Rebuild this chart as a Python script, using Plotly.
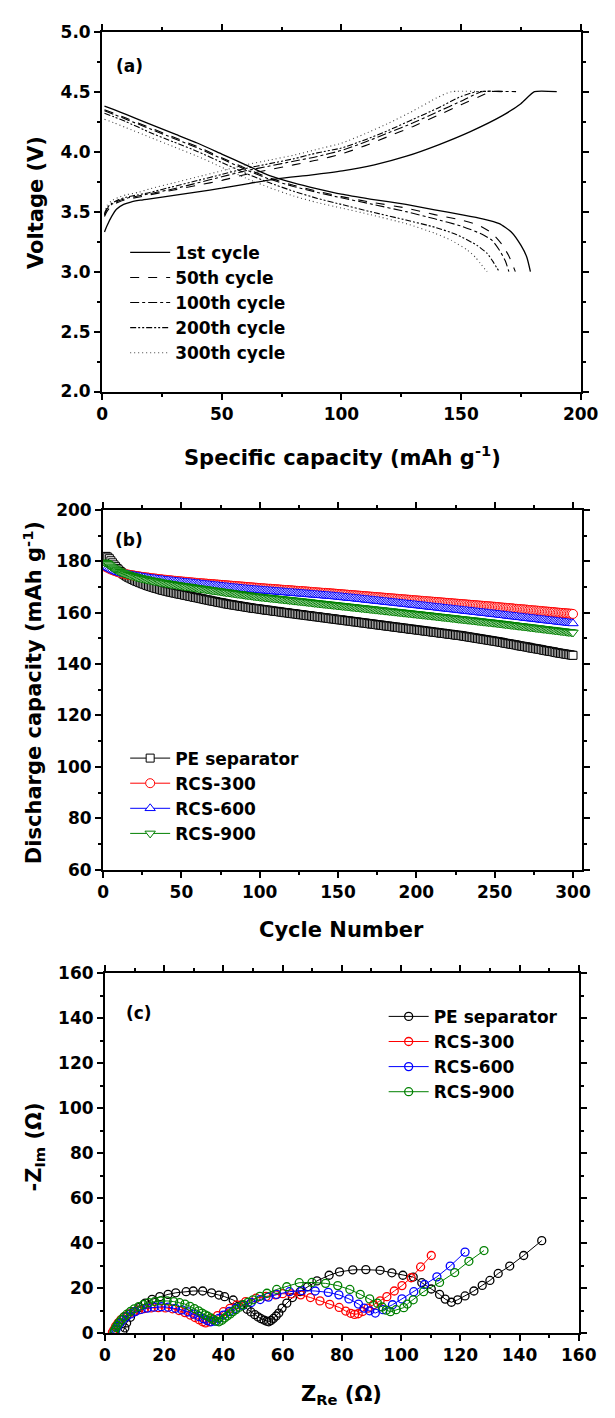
import plotly.graph_objects as go

# ---------------- Panel (a): charge / discharge curves ----------------
cycle_labels = ["1st cycle", "50th cycle", "100th cycle", "200th cycle", "300th cycle"]

ch1_cap = [1, 2, 4, 6, 9, 12, 16, 20, 30, 40, 50, 60, 73.6, 87, 100.4, 113.8, 127.2, 140.6, 153.9, 167.3, 175, 180.7, 190]
ch1_v = [3.33, 3.38, 3.46, 3.52, 3.56, 3.58, 3.595, 3.607, 3.635, 3.665, 3.695, 3.73, 3.775, 3.805, 3.84, 3.89, 3.962, 4.057, 4.167, 4.30, 4.40, 4.50, 4.50]
ch50_cap = [1, 2, 4, 7, 10, 15, 20, 30, 40, 50, 60, 70, 80, 90, 100, 110, 120, 130, 140, 150, 160, 162.5, 173]
ch50_v = [3.46, 3.50, 3.55, 3.58, 3.60, 3.62, 3.64, 3.68, 3.72, 3.76, 3.81, 3.85, 3.89, 3.93, 3.98, 4.05, 4.13, 4.21, 4.30, 4.39, 4.48, 4.50, 4.50]
ch100_cap = [1, 2, 4, 7, 10, 15, 20, 30, 40, 50, 60, 70, 80, 90, 100, 110, 120, 130, 140, 150, 158.5, 171]
ch100_v = [3.47, 3.52, 3.56, 3.59, 3.61, 3.63, 3.65, 3.69, 3.74, 3.79, 3.84, 3.88, 3.92, 3.96, 4.01, 4.08, 4.16, 4.24, 4.33, 4.42, 4.50, 4.50]
ch200_cap = [1, 2, 4, 7, 10, 15, 20, 30, 40, 50, 60, 70, 80, 90, 100, 110, 120, 130, 140, 150, 156.5, 168]
ch200_v = [3.48, 3.53, 3.57, 3.60, 3.62, 3.64, 3.66, 3.71, 3.76, 3.81, 3.86, 3.90, 3.94, 3.99, 4.03, 4.10, 4.18, 4.27, 4.36, 4.46, 4.50, 4.50]
ch300_cap = [1, 2, 4, 7, 10, 15, 20, 30, 40, 50, 60, 70, 80, 90, 100, 110, 120, 130, 140, 146, 160]
ch300_v = [3.49, 3.55, 3.59, 3.62, 3.64, 3.66, 3.69, 3.74, 3.79, 3.84, 3.89, 3.93, 3.97, 4.02, 4.07, 4.15, 4.24, 4.34, 4.45, 4.50, 4.50]

dis1_cap = [1, 5, 10, 20, 30, 40, 50, 60, 70, 80, 90, 100, 112, 127, 139, 150, 159, 166, 171, 175, 177.5, 179]
dis1_v = [4.38, 4.35, 4.31, 4.23, 4.15, 4.07, 3.98, 3.89, 3.80, 3.74, 3.69, 3.645, 3.605, 3.56, 3.515, 3.475, 3.44, 3.40, 3.33, 3.22, 3.12, 3.00]
dis50_cap = [1, 5, 10, 20, 30, 40, 50, 60, 70, 80, 90, 100, 112, 127, 139, 150, 157, 163, 167, 170, 172.7]
dis50_v = [4.35, 4.32, 4.28, 4.20, 4.12, 4.04, 3.95, 3.86, 3.78, 3.72, 3.67, 3.625, 3.58, 3.53, 3.475, 3.43, 3.39, 3.32, 3.23, 3.13, 3.00]
dis100_cap = [1, 5, 10, 20, 30, 40, 50, 60, 70, 80, 90, 100, 112, 127, 139, 150, 159, 163, 166, 168.5, 170]
dis100_v = [4.34, 4.31, 4.27, 4.19, 4.11, 4.03, 3.94, 3.85, 3.77, 3.71, 3.66, 3.615, 3.565, 3.50, 3.44, 3.38, 3.31, 3.26, 3.18, 3.09, 3.00]
dis200_cap = [1, 5, 10, 20, 30, 40, 50, 60, 70, 80, 90, 100, 112, 127, 139, 148, 156.6, 161, 163.3, 165, 166]
dis200_v = [4.32, 4.29, 4.25, 4.16, 4.08, 4.00, 3.91, 3.82, 3.74, 3.67, 3.61, 3.56, 3.50, 3.43, 3.37, 3.31, 3.22, 3.15, 3.085, 3.03, 3.00]
dis300_cap = [1, 5, 10, 20, 30, 40, 50, 60, 70, 80, 90, 100, 112, 127, 139, 146, 152.6, 156, 158, 160, 160.9]
dis300_v = [4.27, 4.24, 4.20, 4.12, 4.04, 3.96, 3.87, 3.78, 3.70, 3.63, 3.575, 3.53, 3.475, 3.40, 3.32, 3.26, 3.18, 3.12, 3.07, 3.02, 3.00]

# ---------------- Panel (b): cycling performance ----------------
series_names = ["PE separator", "RCS-300", "RCS-600", "RCS-900"]
cycles = list(range(1, 301))

pe_cap = [
    181.8, 181.9, 181.6, 181.0, 180.2, 179.4, 178.6, 177.9, 177.2, 176.6,
    176.0, 175.5, 175.0, 174.6, 174.2, 173.8, 173.5, 173.2, 172.9, 172.6,
    172.3, 172.1, 171.8, 171.6, 171.3, 171.1, 170.9, 170.6, 170.4, 170.2,
    170.0, 169.8, 169.6, 169.4, 169.3, 169.1, 168.9, 168.7, 168.6, 168.4,
    168.3, 168.1, 168.0, 167.9, 167.7, 167.6, 167.5, 167.3, 167.2, 167.1,
    167.0, 166.8, 166.7, 166.6, 166.4, 166.3, 166.2, 166.0, 165.9, 165.8,
    165.7, 165.5, 165.4, 165.3, 165.1, 165.0, 164.9, 164.8, 164.6, 164.5,
    164.4, 164.3, 164.1, 164.0, 163.9, 163.8, 163.7, 163.5, 163.4, 163.3,
    163.2, 163.1, 163.0, 162.9, 162.8, 162.7, 162.6, 162.5, 162.4, 162.3,
    162.2, 162.1, 162.0, 161.9, 161.8, 161.7, 161.6, 161.6, 161.5, 161.4,
    161.3, 161.2, 161.1, 161.0, 161.0, 160.9, 160.8, 160.7, 160.6, 160.5,
    160.5, 160.4, 160.3, 160.2, 160.1, 160.0, 160.0, 159.9, 159.8, 159.7,
    159.6, 159.6, 159.5, 159.4, 159.3, 159.2, 159.2, 159.1, 159.0, 158.9,
    158.8, 158.8, 158.7, 158.6, 158.5, 158.4, 158.4, 158.3, 158.2, 158.1,
    158.0, 158.0, 157.9, 157.8, 157.7, 157.6, 157.6, 157.5, 157.4, 157.3,
    157.2, 157.2, 157.1, 157.0, 156.9, 156.8, 156.8, 156.7, 156.6, 156.5,
    156.4, 156.4, 156.3, 156.2, 156.1, 156.0, 156.0, 155.9, 155.8, 155.7,
    155.6, 155.6, 155.5, 155.4, 155.3, 155.2, 155.2, 155.1, 155.0, 154.9,
    154.8, 154.8, 154.7, 154.6, 154.5, 154.4, 154.4, 154.3, 154.2, 154.1,
    154.0, 154.0, 153.9, 153.8, 153.7, 153.6, 153.6, 153.5, 153.4, 153.3,
    153.2, 153.2, 153.1, 153.0, 152.9, 152.8, 152.8, 152.7, 152.6, 152.5,
    152.4, 152.4, 152.3, 152.2, 152.1, 152.0, 152.0, 151.9, 151.8, 151.7,
    151.6, 151.6, 151.5, 151.4, 151.3, 151.2, 151.2, 151.1, 151.0, 150.9,
    150.8, 150.7, 150.6, 150.5, 150.4, 150.3, 150.2, 150.1, 150.0, 149.9,
    149.8, 149.7, 149.6, 149.5, 149.4, 149.3, 149.2, 149.1, 149.0, 148.9,
    148.8, 148.7, 148.6, 148.5, 148.4, 148.2, 148.1, 148.0, 147.9, 147.8,
    147.7, 147.6, 147.5, 147.4, 147.2, 147.1, 147.0, 146.9, 146.8, 146.7,
    146.6, 146.5, 146.3, 146.2, 146.1, 146.0, 145.9, 145.8, 145.7, 145.6,
    145.4, 145.3, 145.2, 145.1, 145.0, 144.9, 144.8, 144.7, 144.5, 144.4,
    144.3, 144.2, 144.1, 144.0, 143.9, 143.8, 143.7, 143.6, 143.5, 143.4,
]
rcs300_cap = [
    178.0, 177.7, 177.4, 177.1, 176.8, 176.6, 176.3, 176.1, 175.9, 175.7,
    175.5, 175.4, 175.2, 175.1, 174.9, 174.8, 174.7, 174.6, 174.5, 174.4,
    174.3, 174.2, 174.1, 174.0, 173.9, 173.8, 173.7, 173.7, 173.6, 173.5,
    173.4, 173.3, 173.3, 173.2, 173.1, 173.0, 173.0, 172.9, 172.8, 172.8,
    172.7, 172.6, 172.6, 172.5, 172.4, 172.4, 172.3, 172.3, 172.2, 172.1,
    172.1, 172.0, 172.0, 171.9, 171.9, 171.8, 171.7, 171.7, 171.6, 171.6,
    171.5, 171.5, 171.4, 171.4, 171.3, 171.3, 171.2, 171.2, 171.1, 171.1,
    171.0, 171.0, 170.9, 170.9, 170.8, 170.8, 170.7, 170.7, 170.6, 170.6,
    170.5, 170.5, 170.4, 170.4, 170.3, 170.3, 170.2, 170.2, 170.1, 170.1,
    170.0, 170.0, 169.9, 169.9, 169.8, 169.8, 169.7, 169.7, 169.6, 169.6,
    169.5, 169.5, 169.4, 169.4, 169.3, 169.3, 169.3, 169.2, 169.2, 169.1,
    169.1, 169.0, 169.0, 168.9, 168.9, 168.8, 168.8, 168.8, 168.7, 168.7,
    168.6, 168.6, 168.5, 168.5, 168.4, 168.4, 168.4, 168.3, 168.3, 168.2,
    168.2, 168.1, 168.1, 168.0, 168.0, 167.9, 167.9, 167.8, 167.8, 167.7,
    167.7, 167.7, 167.6, 167.6, 167.5, 167.5, 167.4, 167.4, 167.3, 167.3,
    167.2, 167.2, 167.1, 167.1, 167.0, 167.0, 166.9, 166.9, 166.8, 166.8,
    166.7, 166.7, 166.6, 166.6, 166.5, 166.5, 166.4, 166.4, 166.3, 166.3,
    166.2, 166.2, 166.1, 166.1, 166.0, 166.0, 165.9, 165.9, 165.8, 165.8,
    165.7, 165.7, 165.6, 165.6, 165.5, 165.5, 165.4, 165.4, 165.3, 165.3,
    165.2, 165.2, 165.1, 165.1, 165.0, 165.0, 164.9, 164.9, 164.8, 164.8,
    164.7, 164.7, 164.6, 164.6, 164.5, 164.5, 164.4, 164.4, 164.3, 164.3,
    164.2, 164.2, 164.1, 164.1, 164.0, 164.0, 163.9, 163.9, 163.8, 163.8,
    163.7, 163.7, 163.6, 163.6, 163.5, 163.5, 163.4, 163.4, 163.3, 163.3,
    163.2, 163.2, 163.1, 163.1, 163.0, 163.0, 162.9, 162.9, 162.8, 162.8,
    162.7, 162.7, 162.6, 162.6, 162.5, 162.5, 162.4, 162.4, 162.3, 162.3,
    162.2, 162.2, 162.1, 162.0, 162.0, 161.9, 161.9, 161.8, 161.8, 161.7,
    161.7, 161.6, 161.5, 161.5, 161.4, 161.4, 161.3, 161.3, 161.2, 161.2,
    161.1, 161.0, 161.0, 160.9, 160.9, 160.8, 160.8, 160.7, 160.7, 160.6,
    160.5, 160.5, 160.4, 160.4, 160.3, 160.3, 160.2, 160.2, 160.1, 160.0,
    160.0, 159.9, 159.9, 159.8, 159.8, 159.7, 159.7, 159.6, 159.6, 159.5,
]
rcs600_cap = [
    178.5, 178.1, 177.7, 177.3, 177.0, 176.7, 176.4, 176.2, 175.9, 175.7,
    175.5, 175.3, 175.2, 175.0, 174.9, 174.8, 174.6, 174.5, 174.4, 174.3,
    174.2, 174.1, 174.0, 173.9, 173.8, 173.7, 173.6, 173.5, 173.4, 173.3,
    173.2, 173.2, 173.1, 173.0, 172.9, 172.8, 172.8, 172.7, 172.6, 172.5,
    172.5, 172.4, 172.3, 172.3, 172.2, 172.1, 172.1, 172.0, 171.9, 171.9,
    171.8, 171.7, 171.7, 171.6, 171.6, 171.5, 171.4, 171.4, 171.3, 171.2,
    171.2, 171.1, 171.0, 171.0, 170.9, 170.8, 170.8, 170.7, 170.6, 170.6,
    170.5, 170.4, 170.4, 170.3, 170.2, 170.2, 170.1, 170.0, 170.0, 169.9,
    169.8, 169.8, 169.7, 169.6, 169.6, 169.5, 169.4, 169.4, 169.3, 169.2,
    169.2, 169.1, 169.1, 169.0, 169.0, 168.9, 168.9, 168.8, 168.8, 168.7,
    168.7, 168.6, 168.6, 168.5, 168.5, 168.4, 168.4, 168.3, 168.3, 168.2,
    168.2, 168.1, 168.1, 168.0, 168.0, 167.9, 167.9, 167.8, 167.8, 167.7,
    167.7, 167.6, 167.6, 167.5, 167.5, 167.4, 167.4, 167.3, 167.3, 167.2,
    167.2, 167.1, 167.1, 167.0, 167.0, 166.9, 166.9, 166.8, 166.8, 166.7,
    166.7, 166.6, 166.6, 166.5, 166.5, 166.4, 166.4, 166.3, 166.3, 166.2,
    166.1, 166.1, 166.0, 165.9, 165.9, 165.8, 165.7, 165.7, 165.6, 165.6,
    165.5, 165.4, 165.4, 165.3, 165.2, 165.2, 165.1, 165.0, 165.0, 164.9,
    164.8, 164.8, 164.7, 164.6, 164.6, 164.5, 164.4, 164.4, 164.3, 164.2,
    164.2, 164.1, 164.0, 164.0, 163.9, 163.8, 163.8, 163.7, 163.6, 163.6,
    163.5, 163.4, 163.4, 163.3, 163.2, 163.2, 163.1, 163.0, 163.0, 162.9,
    162.8, 162.8, 162.7, 162.6, 162.6, 162.5, 162.4, 162.3, 162.3, 162.2,
    162.1, 162.1, 162.0, 161.9, 161.9, 161.8, 161.7, 161.6, 161.6, 161.5,
    161.4, 161.4, 161.3, 161.2, 161.2, 161.1, 161.0, 160.9, 160.9, 160.8,
    160.7, 160.7, 160.6, 160.5, 160.5, 160.4, 160.3, 160.2, 160.2, 160.1,
    160.0, 160.0, 159.9, 159.8, 159.8, 159.7, 159.6, 159.5, 159.5, 159.4,
    159.3, 159.3, 159.2, 159.1, 159.0, 159.0, 158.9, 158.8, 158.7, 158.7,
    158.6, 158.5, 158.5, 158.4, 158.3, 158.2, 158.2, 158.1, 158.0, 157.9,
    157.9, 157.8, 157.7, 157.7, 157.6, 157.5, 157.4, 157.4, 157.3, 157.2,
    157.2, 157.1, 157.0, 156.9, 156.9, 156.8, 156.7, 156.7, 156.6, 156.5,
    156.4, 156.4, 156.3, 156.2, 156.2, 156.1, 156.0, 155.9, 155.9, 155.8,
]
rcs900_cap = [
    179.6, 179.4, 179.0, 178.5, 178.0, 177.6, 177.2, 176.8, 176.5, 176.2,
    175.9, 175.6, 175.4, 175.2, 175.0, 174.8, 174.6, 174.4, 174.3, 174.1,
    173.9, 173.8, 173.6, 173.5, 173.3, 173.2, 173.1, 172.9, 172.8, 172.7,
    172.5, 172.4, 172.3, 172.2, 172.1, 171.9, 171.8, 171.7, 171.6, 171.5,
    171.4, 171.3, 171.2, 171.1, 171.0, 170.9, 170.8, 170.7, 170.6, 170.5,
    170.4, 170.3, 170.2, 170.2, 170.1, 170.0, 169.9, 169.8, 169.7, 169.6,
    169.5, 169.4, 169.4, 169.3, 169.2, 169.1, 169.0, 168.9, 168.8, 168.7,
    168.6, 168.6, 168.5, 168.4, 168.3, 168.2, 168.1, 168.0, 167.9, 167.9,
    167.8, 167.7, 167.6, 167.5, 167.4, 167.3, 167.3, 167.2, 167.1, 167.0,
    166.9, 166.8, 166.8, 166.7, 166.6, 166.5, 166.4, 166.3, 166.3, 166.2,
    166.1, 166.1, 166.0, 165.9, 165.9, 165.8, 165.7, 165.7, 165.6, 165.5,
    165.5, 165.4, 165.3, 165.3, 165.2, 165.1, 165.1, 165.0, 164.9, 164.9,
    164.8, 164.7, 164.7, 164.6, 164.5, 164.5, 164.4, 164.3, 164.3, 164.2,
    164.1, 164.1, 164.0, 163.9, 163.8, 163.8, 163.7, 163.6, 163.6, 163.5,
    163.4, 163.4, 163.3, 163.2, 163.2, 163.1, 163.0, 163.0, 162.9, 162.8,
    162.8, 162.7, 162.6, 162.6, 162.5, 162.4, 162.4, 162.3, 162.2, 162.2,
    162.1, 162.0, 162.0, 161.9, 161.8, 161.8, 161.7, 161.6, 161.6, 161.5,
    161.4, 161.4, 161.3, 161.2, 161.2, 161.1, 161.0, 161.0, 160.9, 160.8,
    160.8, 160.7, 160.6, 160.6, 160.5, 160.4, 160.4, 160.3, 160.2, 160.2,
    160.1, 160.0, 160.0, 159.9, 159.8, 159.8, 159.7, 159.6, 159.6, 159.5,
    159.4, 159.4, 159.3, 159.2, 159.2, 159.1, 159.0, 159.0, 158.9, 158.8,
    158.8, 158.7, 158.6, 158.5, 158.5, 158.4, 158.3, 158.3, 158.2, 158.1,
    158.1, 158.0, 157.9, 157.9, 157.8, 157.7, 157.6, 157.6, 157.5, 157.4,
    157.4, 157.3, 157.2, 157.2, 157.1, 157.0, 157.0, 156.9, 156.8, 156.7,
    156.7, 156.6, 156.5, 156.5, 156.4, 156.3, 156.3, 156.2, 156.1, 156.1,
    156.0, 155.9, 155.8, 155.8, 155.7, 155.6, 155.5, 155.5, 155.4, 155.3,
    155.2, 155.2, 155.1, 155.0, 154.9, 154.9, 154.8, 154.7, 154.6, 154.6,
    154.5, 154.4, 154.3, 154.3, 154.2, 154.1, 154.0, 154.0, 153.9, 153.8,
    153.7, 153.7, 153.6, 153.5, 153.4, 153.4, 153.3, 153.2, 153.1, 153.1,
    153.0, 152.9, 152.8, 152.8, 152.7, 152.6, 152.5, 152.5, 152.4, 152.3,
]

# ---------------- Panel (c): Nyquist plots ----------------
pe_zre = [6.0, 6.7, 7.3, 8.6, 9.8, 11.7, 13.6, 15.9, 18.5, 21.3, 23.9, 27.4, 29.8, 33.0, 36.0, 38.5, 40.4, 43.3,
          46.1, 48.0, 49.3, 50.6, 51.7, 52.7, 53.7, 54.6, 55.3, 56.1, 56.9, 57.8, 58.7, 59.8, 61.4, 63.3, 65.9,
          68.4, 71.6, 75.7, 79.2, 83.7, 88.1, 92.9, 96.9, 100.6, 104.1, 107.0, 110.2, 113.0, 114.9, 117.0, 119.1,
          121.6, 124.6, 127.4, 130.0, 132.8, 136.7, 141.4, 147.5]
pe_zim = [0.6, 2.3, 4.5, 7.0, 9.4, 11.4, 13.3, 15.0, 16.2, 17.2, 17.9, 18.4, 18.7, 18.7, 17.9, 16.9, 16.2, 14.7,
          12.5, 10.6, 9.4, 8.2, 7.2, 6.4, 5.8, 5.3, 5.0, 5.6, 6.5, 7.6, 8.9, 11.1, 13.3, 15.8, 18.4,
          20.6, 23.2, 25.7, 27.2, 28.1, 28.2, 27.9, 26.8, 25.7, 24.9, 22.4, 19.6, 17.2, 15.1, 13.7, 14.8,
          16.5, 18.7, 21.2, 23.4, 26.5, 29.8, 34.5, 41.1]
r300_zre = [2.5, 3.0, 3.6, 4.4, 5.4, 6.6, 8.0, 9.6, 11.4, 13.4, 15.6, 18.0, 20.4, 22.8, 25.0, 27.0, 28.8, 30.4,
            31.8, 33.0, 34.0, 35.2, 36.5, 38.0, 40.0, 42.2, 44.5, 47.5, 51.0, 54.4, 57.6, 60.0, 63.0, 66.1, 69.4,
            72.6, 75.9, 79.1, 81.3, 83.0, 84.3, 85.5, 87.0, 88.8, 90.7, 92.9, 95.2, 97.7, 100.3, 103.4, 106.6, 110.2]
r300_zim = [0.3, 1.5, 3.0, 4.5, 6.0, 7.3, 8.5, 9.5, 10.3, 10.9, 11.2, 11.3, 11.2, 10.8, 10.0, 9.1, 8.0, 6.9,
            5.9, 5.0, 4.5, 5.0, 6.2, 7.8, 9.5, 11.0, 12.5, 14.0, 15.5, 16.3, 17.0, 17.5, 17.4, 17.0, 15.8,
            14.3, 12.8, 11.4, 9.8, 8.8, 8.3, 8.6, 9.6, 11.1, 12.6, 14.3, 16.2, 18.7, 21.1, 24.6, 29.4, 34.5]
r600_zre = [3.2, 3.7, 4.3, 5.1, 6.1, 7.3, 8.7, 10.3, 12.2, 14.3, 16.6, 19.0, 21.4, 23.8, 26.0, 28.1, 30.0, 31.7,
            33.2, 34.5, 35.8, 37.0, 38.4, 40.0, 42.0, 44.2, 46.6, 49.4, 52.4, 55.2, 58.0, 62.3, 66.5, 71.0, 75.4,
            79.0, 82.4, 85.6, 87.5, 89.4, 91.3, 93.9, 97.1, 100.3, 104.3, 107.9, 112.1, 116.6, 121.6]
r600_zim = [0.3, 1.5, 3.0, 4.5, 6.0, 7.3, 8.5, 9.6, 10.5, 11.1, 11.5, 11.7, 11.5, 11.0, 10.3, 9.4, 8.4, 7.4,
            6.4, 5.6, 5.0, 5.3, 6.5, 8.0, 9.6, 11.0, 12.3, 13.6, 14.9, 16.0, 17.2, 18.4, 18.9, 18.7, 18.1,
            17.0, 15.2, 12.9, 11.1, 9.9, 8.9, 10.4, 12.6, 15.2, 18.4, 21.6, 25.0, 29.8, 36.0]
r900_zre = [3.0, 3.3, 3.7, 4.2, 4.8, 5.6, 6.4, 7.4, 8.6, 9.9, 11.4, 13.0, 14.8, 16.8, 18.8, 21.0, 23.2, 25.2,
            27.0, 28.7, 30.2, 31.6, 32.8, 33.8, 34.7, 35.7, 36.6, 37.6, 38.5, 39.5, 40.4, 41.3, 42.3, 43.2, 44.2,
            45.4, 46.8, 48.3, 50.0, 52.3, 54.7, 58.0, 61.4, 65.6, 69.9, 74.5, 78.6, 82.7, 86.2, 89.4, 92.0, 93.6,
            95.0, 96.4, 98.3, 100.9, 102.1, 104.1, 107.6, 113.0, 118.1, 122.9, 128.0]
r900_zim = [0.3, 1.3, 2.5, 3.6, 4.8, 6.0, 7.2, 8.4, 9.6, 10.8, 11.8, 12.7, 13.5, 14.0, 14.3, 14.3, 14.0, 13.5,
            12.9, 11.9, 10.9, 9.9, 8.9, 8.1, 7.5, 6.7, 6.0, 5.3, 5.0, 5.7, 6.7, 7.6, 8.5, 9.5, 10.4,
            11.5, 12.6, 13.7, 14.8, 16.3, 17.7, 19.4, 20.6, 22.4, 22.5, 22.1, 21.1, 19.4, 17.2, 15.2, 13.3, 11.6,
            10.2, 9.5, 10.4, 11.3, 12.9, 14.8, 18.4, 22.5, 26.9, 31.9, 36.7]

colors = ["#000000", "#ff0000", "#0000ff", "#008000"]

# ---------------- layout helpers ----------------
W, H = 615, 1418
FONT = "DejaVu Sans"


def px_x(p):
    return p / W


def px_y(p):
    return 1 - p / H


fig = go.Figure()

# Panel (a) traces
dashes = ["solid", "dash", "dashdot", "6px,2px,2px,2px,2px,2px", "1px,3px"]
charge = [(ch1_cap, ch1_v), (ch50_cap, ch50_v), (ch100_cap, ch100_v), (ch200_cap, ch200_v), (ch300_cap, ch300_v)]
discharge = [(dis1_cap, dis1_v), (dis50_cap, dis50_v), (dis100_cap, dis100_v), (dis200_cap, dis200_v),
             (dis300_cap, dis300_v)]
for i, name in enumerate(cycle_labels):
    lw = 1.3 if i == 0 else 1.1
    col = "#000000" if i < 4 else "#444444"
    fig.add_trace(go.Scatter(x=charge[i][0], y=charge[i][1], mode="lines", name=name,
                             line=dict(color=col, width=lw, dash=dashes[i], shape="spline", smoothing=0.5),
                             xaxis="x", yaxis="y", legend="legend", showlegend=True))
    fig.add_trace(go.Scatter(x=discharge[i][0], y=discharge[i][1], mode="lines", name=name,
                             line=dict(color=col, width=lw, dash=dashes[i], shape="spline", smoothing=0.5),
                             xaxis="x", yaxis="y", legend="legend", showlegend=False))

# Panel (b) traces
b_series = [pe_cap, rcs300_cap, rcs600_cap, rcs900_cap]
b_symbols = ["square", "circle", "triangle-up", "triangle-down"]
b_sizes = [8, 9, 9, 9]
for i, name in enumerate(series_names):
    fig.add_trace(go.Scatter(x=cycles, y=b_series[i], mode="lines+markers", name=name,
                             line=dict(color=colors[i], width=1),
                             marker=dict(symbol=b_symbols[i], size=b_sizes[i], color="white",
                                         line=dict(color=colors[i], width=1)),
                             xaxis="x2", yaxis="y2", legend="legend2"))

# Panel (c) traces
c_series = [(pe_zre, pe_zim), (r300_zre, r300_zim), (r600_zre, r600_zim), (r900_zre, r900_zim)]
for i, name in enumerate(series_names):
    fig.add_trace(go.Scatter(x=c_series[i][0], y=c_series[i][1], mode="lines+markers", name=name,
                             line=dict(color=colors[i], width=1),
                             marker=dict(symbol="circle-open", size=8, color=colors[i],
                                         line=dict(color=colors[i], width=1.3)),
                             xaxis="x3", yaxis="y3", legend="legend3"))

tickfont = dict(family=FONT, size=17, color="black", weight=700)


def axis(domain, rng, dtick, minor_dtick, anchor, tick0=0):
    return dict(domain=domain, range=rng, dtick=dtick, tick0=tick0, anchor=anchor,
                showline=True, linewidth=2, linecolor="black", mirror="allticks",
                ticks="outside", ticklen=6, tickwidth=1.5, tickcolor="black",
                tickprefix="<b>", ticksuffix="</b>",
                minor=dict(dtick=minor_dtick, ticks="outside", ticklen=3, tickwidth=1.5, tickcolor="black"),
                showgrid=False, zeroline=False, tickfont=tickfont, fixedrange=True)


xa_dom = [px_x(100), px_x(598)]
xb_dom = [px_x(101), px_x(599)]
xc_dom = [px_x(103), px_x(596)]
ya_dom = [px_y(387), px_y(22)]
yb_dom = [px_y(872), px_y(507)]
yc_dom = [px_y(1342), px_y(977)]

legfont = dict(family=FONT, size=17, color="black", weight="bold")

fig.update_layout(
    width=W, height=H, margin=dict(l=0, r=0, t=0, b=0),
    paper_bgcolor="white", plot_bgcolor="white",
    xaxis=axis(xa_dom, [0, 200], 50, 25, "y"),
    yaxis=axis(ya_dom, [2.0, 5.0], 0.5, 0.25, "x", tick0=2.0) | dict(tickformat=".1f"),
    xaxis2=axis(xb_dom, [0, 305.5], 50, 25, "y2"),
    yaxis2=axis(yb_dom, [60, 200], 20, 10, "x2"),
    xaxis3=axis(xc_dom, [0, 160], 20, 10, "y3"),
    yaxis3=axis(yc_dom, [0, 160], 20, 10, "x3"),
    legend=dict(x=px_x(124), y=px_y(228), xanchor="left", yanchor="top", font=legfont,
                bgcolor="rgba(0,0,0,0)", itemwidth=40, tracegroupgap=0),
    legend2=dict(x=px_x(124), y=px_y(741), xanchor="left", yanchor="top", font=legfont,
                 bgcolor="rgba(0,0,0,0)", itemwidth=40),
    legend3=dict(x=px_x(393), y=px_y(1003), xanchor="left", yanchor="top", font=legfont,
                 bgcolor="rgba(0,0,0,0)", itemwidth=40),
    showlegend=True,
)

title_font = dict(family=FONT, size=21, color="black", weight="bold")
label_font = dict(family=FONT, size=17, color="black", weight="bold")
annots = [
    dict(text="Specific capacity (mAh g<sup>-1</sup>)", x=px_x(350), y=px_y(452), font=title_font),
    dict(text="Voltage (V)", x=px_x(31), y=px_y(195), font=title_font, textangle=-90),
    dict(text="Cycle Number", x=px_x(349), y=px_y(933), font=title_font),
    dict(text="Discharge capacity (mAh g<sup>-1</sup>)", x=px_x(28), y=px_y(692), font=title_font, textangle=-90),
    dict(text="Z<sub>Re</sub> (Ω)", x=px_x(349), y=px_y(1405), font=title_font),
    dict(text="-Z<sub>Im</sub> (Ω)", x=px_x(30), y=px_y(1153), font=title_font, textangle=-90),
    dict(text="(a)", x=px_x(128), y=px_y(57), font=label_font),
    dict(text="(b)", x=px_x(128), y=px_y(538), font=label_font),
    dict(text="(c)", x=px_x(138), y=px_y(1017), font=label_font),
]
for a in annots:
    a.update(xref="paper", yref="paper", showarrow=False, xanchor="center", yanchor="middle")
fig.update_layout(annotations=annots)

fig.write_html("out.html")
